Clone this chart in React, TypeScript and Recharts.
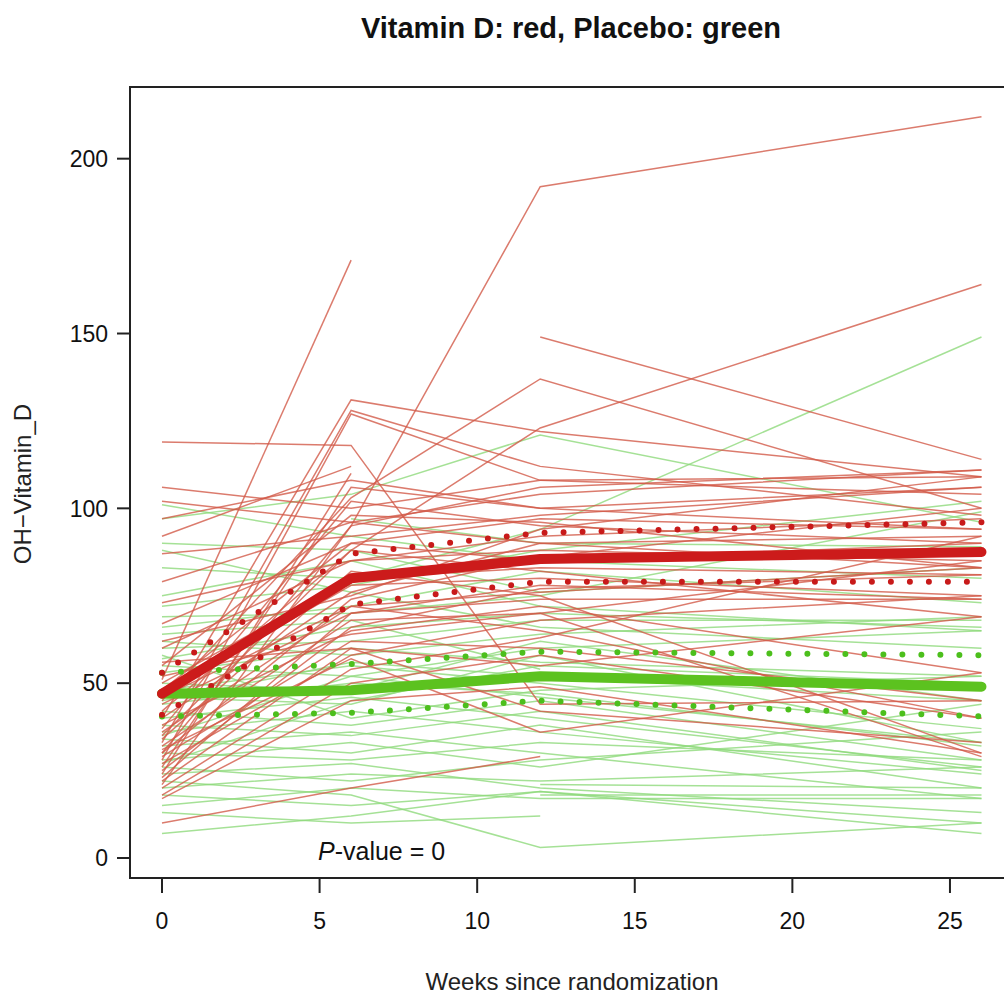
import React from 'react';
import { LineChart, Line, XAxis, YAxis } from 'recharts';

// measurement weeks and axis ticks
const weeks = [0, 6, 12, 26];
const xTicks = [0, 5, 10, 15, 20, 25];
const yTicks = [0, 50, 100, 150, 200];

// one row per subject: values at weeks 0, 6, 12, 26 (null = missing)
const vitaminD: (number | null)[][] = [
  [51, 171, null, null],
  [30, 95, 192, 212],
  [null, null, 149, 114],
  [45, 103, 137, 100],
  [35, 88, 123, 164],
  [40, 131, 122, 109],
  [33, 128, 112, 98],
  [28, 127, 108, 104],
  [119, 118, 44, 45],
  [106, 100, 108, 109],
  [102, 96, 104, 111],
  [97, 108, 100, 94],
  [92, 112, null, null],
  [87, 92, 98, 106],
  [79, 96, 90, 92],
  [73, 85, 92, 97],
  [67, 90, 85, 90],
  [60, 85, 88, 85],
  [55, 98, 96, 83],
  [50, 80, 83, 81],
  [47, 78, 80, 75],
  [44, 70, 78, 74],
  [42, 88, 82, 69],
  [40, 76, 90, 83],
  [38, 65, 72, 53],
  [36, 72, 65, 40],
  [34, 82, 75, 30],
  [32, 68, 70, 29],
  [30, 74, 86, 100],
  [29, 62, 60, 45],
  [27, 58, 68, 75],
  [25, 66, 77, 81],
  [23, 70, 74, 74],
  [22, 60, 55, 69],
  [20, 54, 63, 92],
  [18, 50, 58, 40],
  [17, 45, 49, 30],
  [10, 20, 29, null],
  [62, 75, 94, 109],
  [56, 60, 42, 33],
  [48, 90, 97, 94],
  [37, 102, 95, 90],
  [26, 106, 100, 106],
  [21, 95, 106, 111],
  [46, 72, 76, 83],
  [52, 64, 70, 85],
  [24, 110, null, null],
  [31, 57, 36, 53],
];

const placebo: (number | null)[][] = [
  [101, 92, 85, 80],
  [97, 104, 121, 96],
  [83, 80, 94, 149],
  [72, 78, 88, 102],
  [69, 70, 75, 99],
  [66, 72, 82, 73],
  [62, 58, 64, 69],
  [57, 66, 70, 66],
  [55, 52, 60, 65],
  [53, 60, 56, 52],
  [50, 48, 62, 45],
  [48, 55, 50, 37],
  [46, 44, 58, 33],
  [44, 50, 47, 32],
  [42, 38, 45, 28],
  [40, 46, 40, 26],
  [38, 35, 42, 25],
  [36, 42, 36, 24],
  [34, 30, 38, 20],
  [32, 36, 30, 17],
  [30, 28, 33, 28],
  [28, 33, 26, 44],
  [26, 22, 28, 36],
  [24, 27, 20, 13],
  [22, 18, 3, 10],
  [20, 24, 22, 26],
  [18, 15, 19, 7],
  [15, 20, 17, 17],
  [13, 10, 12, null],
  [7, 12, 19, 10],
  [null, null, 18, 18],
  [null, null, 21, 20],
  [60, 62, 68, 68],
  [75, 85, 72, 65],
  [88, 76, 66, 60],
  [64, 68, 54, null],
  [58, 40, 48, 52],
  [45, 56, 52, 45],
  [35, 52, 46, 33],
  [27, 45, 55, 50],
  [null, 97, 90, 89],
  [90, 88, 76, 83],
];

// group means with dotted confidence bands
const meanVitD = [47, 80, 85.5, 87.5];
const upperVitD = [53, 87, 93, 96];
const lowerVitD = [41, 72.5, 79, 79];
const meanPlacebo = [47, 48, 52, 49];
const upperPlacebo = [53, 55.5, 59, 58];
const lowerPlacebo = [40.5, 41.5, 45, 40.5];

const rows = weeks.map((w, i) => {
  const row: Record<string, number | null> = { week: w };
  vitaminD.forEach((s, k) => (row['v' + k] = s[i]));
  placebo.forEach((s, k) => (row['p' + k] = s[i]));
  row.meanV = meanVitD[i];
  row.upV = upperVitD[i];
  row.loV = lowerVitD[i];
  row.meanP = meanPlacebo[i];
  row.upP = upperPlacebo[i];
  row.loP = lowerPlacebo[i];
  return row;
});

const font = 'Liberation Sans, Arial, Helvetica, sans-serif';

export default function App() {
  return (
    <div style={{ position: 'absolute', left: 0, top: 0, width: 1004, height: 997, overflow: 'hidden', background: '#fff' }}>
      <LineChart width={1040} height={997} data={rows} margin={{ top: 87, right: 27, bottom: 59, left: 70 }}>
        <XAxis
          dataKey="week"
          type="number"
          domain={[-1.015, 27]}
          ticks={xTicks}
          allowDataOverflow
          axisLine={false}
          tickLine={{ stroke: '#222', strokeWidth: 2 }}
          tickSize={15}
          tickMargin={20}
          height={60}
          tick={{ fontSize: 23, fill: '#111', fontFamily: font }}
        />
        <YAxis
          type="number"
          domain={[-5.72, 220.5]}
          ticks={yTicks}
          allowDataOverflow
          axisLine={false}
          tickLine={{ stroke: '#222', strokeWidth: 2 }}
          tickSize={13}
          tickMargin={9}
          width={60}
          tick={{ fontSize: 23, fill: '#111', fontFamily: font }}
        />
        {placebo.map((_, k) => (
          <Line key={'p' + k} dataKey={'p' + k} stroke="#8fda7c" strokeOpacity={0.8} strokeWidth={1.5} dot={false} activeDot={false} isAnimationActive={false} />
        ))}
        {vitaminD.map((_, k) => (
          <Line key={'v' + k} dataKey={'v' + k} stroke="#d25a48" strokeOpacity={0.8} strokeWidth={1.5} dot={false} activeDot={false} isAnimationActive={false} />
        ))}
        <Line dataKey="upP" stroke="#4cbf1c" strokeWidth={6} strokeDasharray="0 19" strokeLinecap="round" dot={false} activeDot={false} isAnimationActive={false} />
        <Line dataKey="loP" stroke="#4cbf1c" strokeWidth={6} strokeDasharray="0 19" strokeLinecap="round" dot={false} activeDot={false} isAnimationActive={false} />
        <Line dataKey="upV" stroke="#c81a1a" strokeWidth={6} strokeDasharray="0 19" strokeLinecap="round" dot={false} activeDot={false} isAnimationActive={false} />
        <Line dataKey="loV" stroke="#c81a1a" strokeWidth={6} strokeDasharray="0 19" strokeLinecap="round" dot={false} activeDot={false} isAnimationActive={false} />
        <Line dataKey="meanP" stroke="#5cc21f" strokeWidth={10} strokeLinecap="round" strokeLinejoin="round" dot={false} activeDot={false} isAnimationActive={false} />
        <Line dataKey="meanV" stroke="#cc1b1b" strokeWidth={10} strokeLinecap="round" strokeLinejoin="round" dot={false} activeDot={false} isAnimationActive={false} />
      </LineChart>
      <svg width={1004} height={997} style={{ position: 'absolute', left: 0, top: 0, pointerEvents: 'none' }}>
        <rect x={130} y={87} width={883} height={791} fill="none" stroke="#222" strokeWidth={2} />
        <text x={571} y={38} textAnchor="middle" fontFamily={font} fontWeight="bold" fontSize={29} fill="#111">
          Vitamin D: red, Placebo: green
        </text>
        <text x={572} y={990} textAnchor="middle" fontFamily={font} fontSize={24} fill="#222">
          Weeks since randomization
        </text>
        <text transform="translate(31,484) rotate(-90)" textAnchor="middle" fontFamily={font} fontSize={24} fill="#222">
          OH−Vitamin_D
        </text>
        <text x={318} y={860} fontFamily={font} fontSize={25} fill="#111">
          <tspan fontStyle="italic">P</tspan>-value = 0
        </text>
      </svg>
    </div>
  );
}
